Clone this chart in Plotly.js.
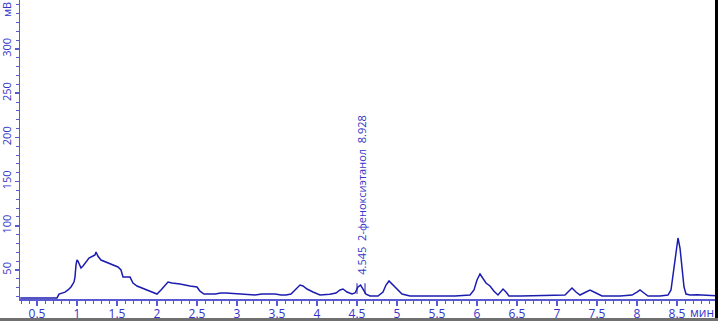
<!DOCTYPE html>
<html>
<head>
<meta charset="utf-8">
<script src="https://cdn.plot.ly/plotly-3.0.1.min.js"></script>
<style>html,body{margin:0;padding:0;background:#fff;}#chart{width:718px;height:321px;}</style>
</head>
<body>
<div id="chart"></div>
<script>
// Chromatogram data: retention time (min) and signal (mV)
const timeMin = [0.29,0.75,0.775,0.8125,0.85,0.8875,0.925,0.9625,0.975,0.9875,1.0,1.0125,1.0375,1.05,1.075,1.1125,1.15,1.2,1.225,1.2375,1.2625,1.3,1.3625,1.4375,1.5125,1.55,1.575,1.6625,1.7,1.75,1.85,1.9375,2.0,2.05,2.1,2.1375,2.1875,2.2875,2.4125,2.5,2.5375,2.5875,2.725,2.8,2.8625,2.94,3.0375,3.225,3.3125,3.475,3.55,3.6125,3.675,3.725,3.7875,3.825,3.875,3.95,4.0375,4.16,4.2375,4.2875,4.325,4.375,4.4375,4.475,4.5125,4.545,4.575,4.6125,4.6625,4.7625,4.825,4.8625,4.9,4.9375,4.9875,5.0625,5.1625,5.4,5.6,5.725,5.82,5.9125,5.9625,6.0,6.0375,6.075,6.1125,6.1625,6.2125,6.2625,6.3,6.325,6.3625,6.4,6.55,6.6625,6.8,6.98,7.1,7.1375,7.1875,7.2375,7.2875,7.3375,7.4125,7.4875,7.5625,7.79,7.9375,8.0,8.0375,8.0875,8.1375,8.2875,8.3875,8.425,8.45,8.475,8.5,8.5125,8.5375,8.5625,8.5875,8.6125,8.6625,8.75,8.85,8.99];
const signalMv = [18.4,18.4,22.8,24.0,25.0,27.4,30.8,36.4,42.0,55.7,61.3,60.0,55.7,52.3,54.5,59.0,63.6,65.8,67.0,70.4,65.5,61.3,59.0,56.8,53.4,50.0,42.0,42.0,35.3,31.9,28.5,25.1,22.8,27.4,33.0,36.4,35.3,34.2,31.9,30.8,26.0,22.8,22.8,24.0,24.0,23.5,22.8,21.7,22.8,22.8,21.7,21.7,22.8,27.4,33.0,31.9,28.5,25.1,21.7,22.5,24.0,27.4,28.5,25.1,22.8,24.0,30.8,33.0,28.5,22.8,20.6,20.6,25.1,33.0,37.6,34.2,28.5,22.8,20.6,21.0,20.6,20.6,21.3,21.7,27.4,38.7,45.5,39.8,35.3,31.9,26.0,21.7,25.1,28.5,25.1,20.6,20.6,20.8,20.6,21.2,21.7,25.1,29.6,25.1,21.7,24.0,27.4,24.0,20.6,20.6,21.7,25.1,27.4,24.0,20.6,20.6,21.7,27.4,44.3,67.0,84.0,86.2,74.9,52.3,30.8,22.8,21.7,21.9,21.2,21.0];
// Identified peak
const peakTime = [4.545];
const peakHeight = [33.0];
const peakStart = [4.50];
const peakEnd = [4.60];
const peakLabel = ["4.545  2-феноксиэтанол  8.928"];

const xTickVals = [0.5,1,1.5,2,2.5,3,3.5,4,4.5,5,5.5,6,6.5,7,7.5,8,8.5];
const xTickText = ["0.5","1","1.5","2","2.5","3","3.5","4","4.5","5","5.5","6","6.5","7","7.5","8","8.5"];
const yTickVals = [50,100,150,200,250,300];

const textColor = '#3434c8';
const axisColor = '#5a5ad2';
const fontFam = '"Open Sans", "Noto Sans", sans-serif';

const trace = {
  x: timeMin, y: signalMv, type: 'scatter', mode: 'lines',
  line: {color: '#1c1cb0', width: 1.5, shape: 'linear'},
  hoverinfo: 'skip'
};

const annotations = [
  {x: peakTime[0], y: peakHeight[0] + 9, xref: 'x', yref: 'y', text: peakLabel[0],
   textangle: -90, showarrow: false, xanchor: 'center', yanchor: 'bottom',
   font: {family: fontFam, size: 11, color: textColor}},
  {x: 0, y: 1, xref: 'paper', yref: 'paper', text: 'мВ', textangle: -90, showarrow: false,
   xanchor: 'right', yanchor: 'top', xshift: -4, yshift: 0,
   font: {family: fontFam, size: 11, color: textColor}},
  {x: 1, y: 0, xref: 'paper', yref: 'paper', text: 'мин', showarrow: false,
   xanchor: 'right', yanchor: 'top', xshift: 0, yshift: -3,
   font: {family: fontFam, size: 12, color: textColor}}
];

const shapes = [
  {type: 'line', xref: 'x', yref: 'y', x0: peakStart[0], x1: peakStart[0], y0: 23, y1: 35, line: {color: '#1c1cb0', width: 1}},
  {type: 'line', xref: 'x', yref: 'y', x0: peakEnd[0], x1: peakEnd[0], y0: 23, y1: 35, line: {color: '#1c1cb0', width: 1}},
  {type: 'rect', xref: 'paper', yref: 'paper', x0: -0.05, x1: 1.01, y0: -0.1, y1: -0.0635, line: {width: 0}, fillcolor: '#707070', layer: 'above'},
  {type: 'rect', xref: 'paper', yref: 'paper', x0: 0.99856, x1: 1.01, y0: -0.0635, y1: 1.01, line: {width: 0}, fillcolor: '#000000', layer: 'above'}
];

const layout = {
  width: 718, height: 321,
  margin: {l: 20, r: 2, t: 0, b: 22},
  paper_bgcolor: '#ffffff', plot_bgcolor: '#ffffff',
  showlegend: false,
  font: {family: fontFam, size: 12, color: textColor},
  xaxis: {
    range: [0.2875, 8.9875], showgrid: false, zeroline: false,
    showline: true, linecolor: axisColor, linewidth: 1.5,
    tickmode: 'array', tickvals: xTickVals, ticktext: xTickText,
    ticks: 'outside', ticklen: 5, tickwidth: 1.5, tickcolor: axisColor,
    ticklabelstandoff: -2,
    tickfont: {family: fontFam, size: 12, color: textColor}, tickangle: 0,
    minor: {dtick: 0.1, tick0: 0, ticks: 'outside', ticklen: 3, tickwidth: 1, tickcolor: axisColor, showgrid: false}
  },
  yaxis: {
    range: [17.2, 355.4], showgrid: false, zeroline: false,
    showline: true, linecolor: axisColor, linewidth: 1.5,
    tickmode: 'array', tickvals: yTickVals,
    ticks: 'outside', ticklen: 4, tickwidth: 1.5, tickcolor: axisColor,
    tickangle: -90, ticklabelstandoff: -1,
    tickfont: {family: fontFam, size: 11, color: textColor},
    minor: {dtick: 10, tick0: 0, ticks: 'outside', ticklen: 3, tickwidth: 1, tickcolor: axisColor, showgrid: false}
  },
  annotations: annotations,
  shapes: shapes
};

Plotly.newPlot('chart', [trace], layout, {displayModeBar: false, staticPlot: true});
</script>
</body>
</html>
